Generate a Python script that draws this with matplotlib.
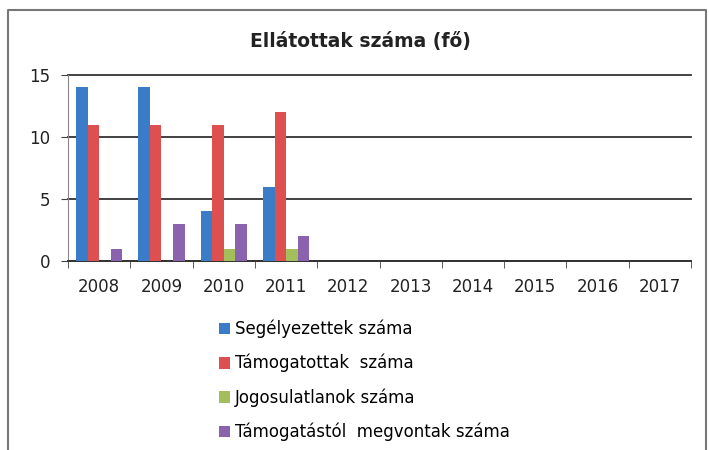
import matplotlib
matplotlib.use("Agg")
import matplotlib.pyplot as plt
import numpy as np
from matplotlib.patches import Patch
from matplotlib.lines import Line2D

years = ["2008", "2009", "2010", "2011", "2012", "2013", "2014", "2015", "2016", "2017"]
segelyezettek = [14, 14, 4, 6, 0, 0, 0, 0, 0, 0]
tamogatottak = [11, 11, 11, 12, 0, 0, 0, 0, 0, 0]
jogosulatlanok = [0, 0, 1, 1, 0, 0, 0, 0, 0, 0]
megvontak = [1, 3, 3, 2, 0, 0, 0, 0, 0, 0]
series_names = ["Segélyezettek száma", "Támogatottak  száma",
                "Jogosulatlanok száma", "Támogatástól  megvontak száma"]
colors = ["#3a7cc8", "#de4f4f", "#a3bf5c", "#8a62ae"]
title = "Ellátottak száma (fő)"

fig = plt.figure(figsize=(7.09, 4.5), dpi=100)
ax = fig.add_axes([68/709, 189/450, 623/709, 186/450])

x = np.arange(len(years))
w = 0.185
series = [segelyezettek, tamogatottak, jogosulatlanok, megvontak]
for i, (vals, c) in enumerate(zip(series, colors)):
    ax.bar(x + (i - 1.5) * w, vals, width=w, color=c, zorder=3)

ax.set_xlim(-0.5, len(years) - 0.5)
ax.set_ylim(0, 15)
ax.set_yticks([0, 5, 10, 15])
ax.set_xticks(x)
ax.set_xticklabels(years)
ax.set_xticks(np.arange(-0.5, len(years)), minor=True)
ax.tick_params(axis="x", which="major", length=0, pad=12, labelsize=12)
ax.tick_params(axis="x", which="minor", length=5, color="#444444", direction="out")
ax.tick_params(axis="y", length=5, color="#444444", labelsize=12, pad=8)
for lab in ax.get_xticklabels() + ax.get_yticklabels():
    lab.set_color("#222222")

ax.grid(axis="y", color="#333333", linewidth=1.3, zorder=0)
for gl in ax.get_ygridlines():
    gl.set_clip_on(False)
for s in ["top", "right"]:
    ax.spines[s].set_visible(False)
ax.spines["left"].set_color("#888888")
ax.spines["bottom"].set_color("#333333")
ax.spines["bottom"].set_linewidth(1.3)

fig.text(360/709, 1 - 42/450, title, ha="center", va="center",
         fontsize=13.5, fontweight="bold", color="#222222")

handles = [Patch(facecolor=c, edgecolor="none") for c in colors]
fig.legend(handles, series_names, loc="upper left",
           bbox_to_anchor=(212/709, 1 - 313/450), frameon=False,
           fontsize=12, labelspacing=0.95, handlelength=0.7, handleheight=0.7,
           handletextpad=0.3, borderaxespad=0)

# outer chart border
fig.add_artist(Line2D([8/709, 8/709, 706/709, 706/709],
                      [0, 1 - 10/450, 1 - 10/450, 0],
                      transform=fig.transFigure, color="#777777", linewidth=1.5))

fig.savefig("out.png", dpi=100)
